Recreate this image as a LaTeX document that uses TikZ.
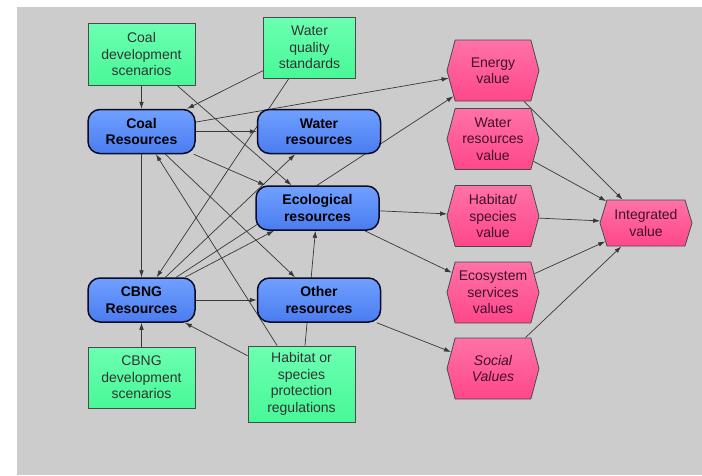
\documentclass[tikz,border=0pt]{standalone}
\usepackage{fontspec}
\setmainfont{Liberation Sans}
\usepackage{tikz}
\usetikzlibrary{positioning,shapes.symbols,backgrounds,arrows.meta}

\definecolor{panelgray}{HTML}{CCCCCC}
\definecolor{drivertop}{HTML}{6CFFB2}
\definecolor{driverbot}{HTML}{48F896}
\definecolor{driveredge}{HTML}{4A4A4A}
\definecolor{restop}{HTML}{70A0FF}
\definecolor{resbot}{HTML}{4A7CF0}
\definecolor{resedge}{HTML}{0A0A28}
\definecolor{valtop}{HTML}{FF72A8}
\definecolor{valbot}{HTML}{FF478A}
\definecolor{valtext}{HTML}{40102C}

\begin{document}
\begin{tikzpicture}[x=1pt,y=-1pt,>={Latex[length=7pt,width=4.6pt]},
	every node/.style={font=\fontsize{14}{16.5}\selectfont,align=center,inner sep=0pt},
	driver/.style={draw=driveredge,line width=0.8pt,top color=drivertop,bottom color=driverbot,text=black!80,minimum width=107pt},
	resource/.style={draw=resedge,line width=1.5pt,rounded corners=12pt,top color=restop,bottom color=resbot,
		font=\fontsize{14}{16.5}\selectfont\bfseries,minimum height=44pt},
	valuebox/.style={signal,signal to=west and east,signal pointer angle=150,draw=driveredge,line width=0.8pt,
		top color=valtop,bottom color=valbot,text=valtext,minimum width=92pt,minimum height=61pt},
	link/.style={->,draw=black!78,line width=0.7pt}]
	\useasboundingbox (0,0) rectangle (702,475);
	% resources
	\node(coalres) [resource,minimum width=107pt] at (141.5,131.5) {Coal\\Resources};
	\node(cbngres) [resource,minimum width=107pt] at (141.5,300) {CBNG\\Resources};
	\node(waterres) [resource,minimum width=123pt,right=61pt of coalres] {Water\\resources};
	\node(otherres) [resource,minimum width=123pt,right=61pt of cbngres] {Other\\resources};
	\node(ecores) [resource,minimum width=123pt] at (317.5,208) {Ecological\\resources};
	% drivers
	\node(coaldev) [driver,minimum height=62pt,above=23pt of coalres] {Coal\\development\\scenarios};
	\node(cbngdev) [driver,minimum height=61pt,below=24pt of cbngres] {CBNG\\development\\scenarios};
	\node(wqs) [driver,minimum width=92pt,minimum height=61pt] at (309.5,47.5) {Water\\quality\\standards};
	\node(habreg) [driver,minimum height=76pt] at (301.5,384) {Habitat or\\species\\protection\\regulations};
	% values
	\node(energy) [valuebox] at (493,70.5) {Energy\\value};
	\node(waterval) [valuebox] at (493,139) {Water\\resources\\value};
	\node(habval) [valuebox] at (493,216) {Habitat/\\species\\value};
	\node(ecoval) [valuebox] at (493,292.5) {Ecosystem\\services\\values};
	\node(social) [valuebox,font=\fontsize{14}{16.5}\selectfont\itshape] at (493,368.5) {Social\\Values};
	\node(integ) [valuebox,minimum height=46pt,signal pointer angle=146] at (646,223) {Integrated\\value};

	\begin{scope}[on background layer]
		\fill[panelgray] (17,7) rectangle (702,475);
		\draw[link] (coaldev) -- (coalres);
		\draw[link] (coaldev) -- (ecores);
		\draw[link] (wqs) -- (coalres);
		\draw[link] (wqs) -- (cbngres);
		\draw[link] (coalres) -- (waterres);
		\draw[link] (coalres) -- (energy);
		\draw[link] (coalres) -- (ecores);
		\draw[link] (coalres) -- (cbngres);
		\draw[link] (coalres) -- (otherres);
		\draw[link] (habreg) -- (coalres);
		\draw[link] (habreg) -- (cbngres);
		\draw[link] (habreg) -- (ecores);
		\draw[link] (cbngdev) -- (cbngres);
		\draw[link] (cbngres) -- (otherres);
		\draw[link] (cbngres) -- (waterres);
		\draw[link] (cbngres) -- (energy);
		\draw[link] (cbngres) -- (ecores);
		\draw[link] (ecores) -- (habval);
		\draw[link] (ecores) -- (ecoval);
		\draw[link] (otherres) -- (social);
		\draw[link] (energy) -- (integ);
		\draw[link] (waterval) -- (integ);
		\draw[link] (habval) -- (integ);
		\draw[link] (ecoval) -- (integ);
		\draw[link] (social) -- (integ);
	\end{scope}
\end{tikzpicture}
\end{document}
